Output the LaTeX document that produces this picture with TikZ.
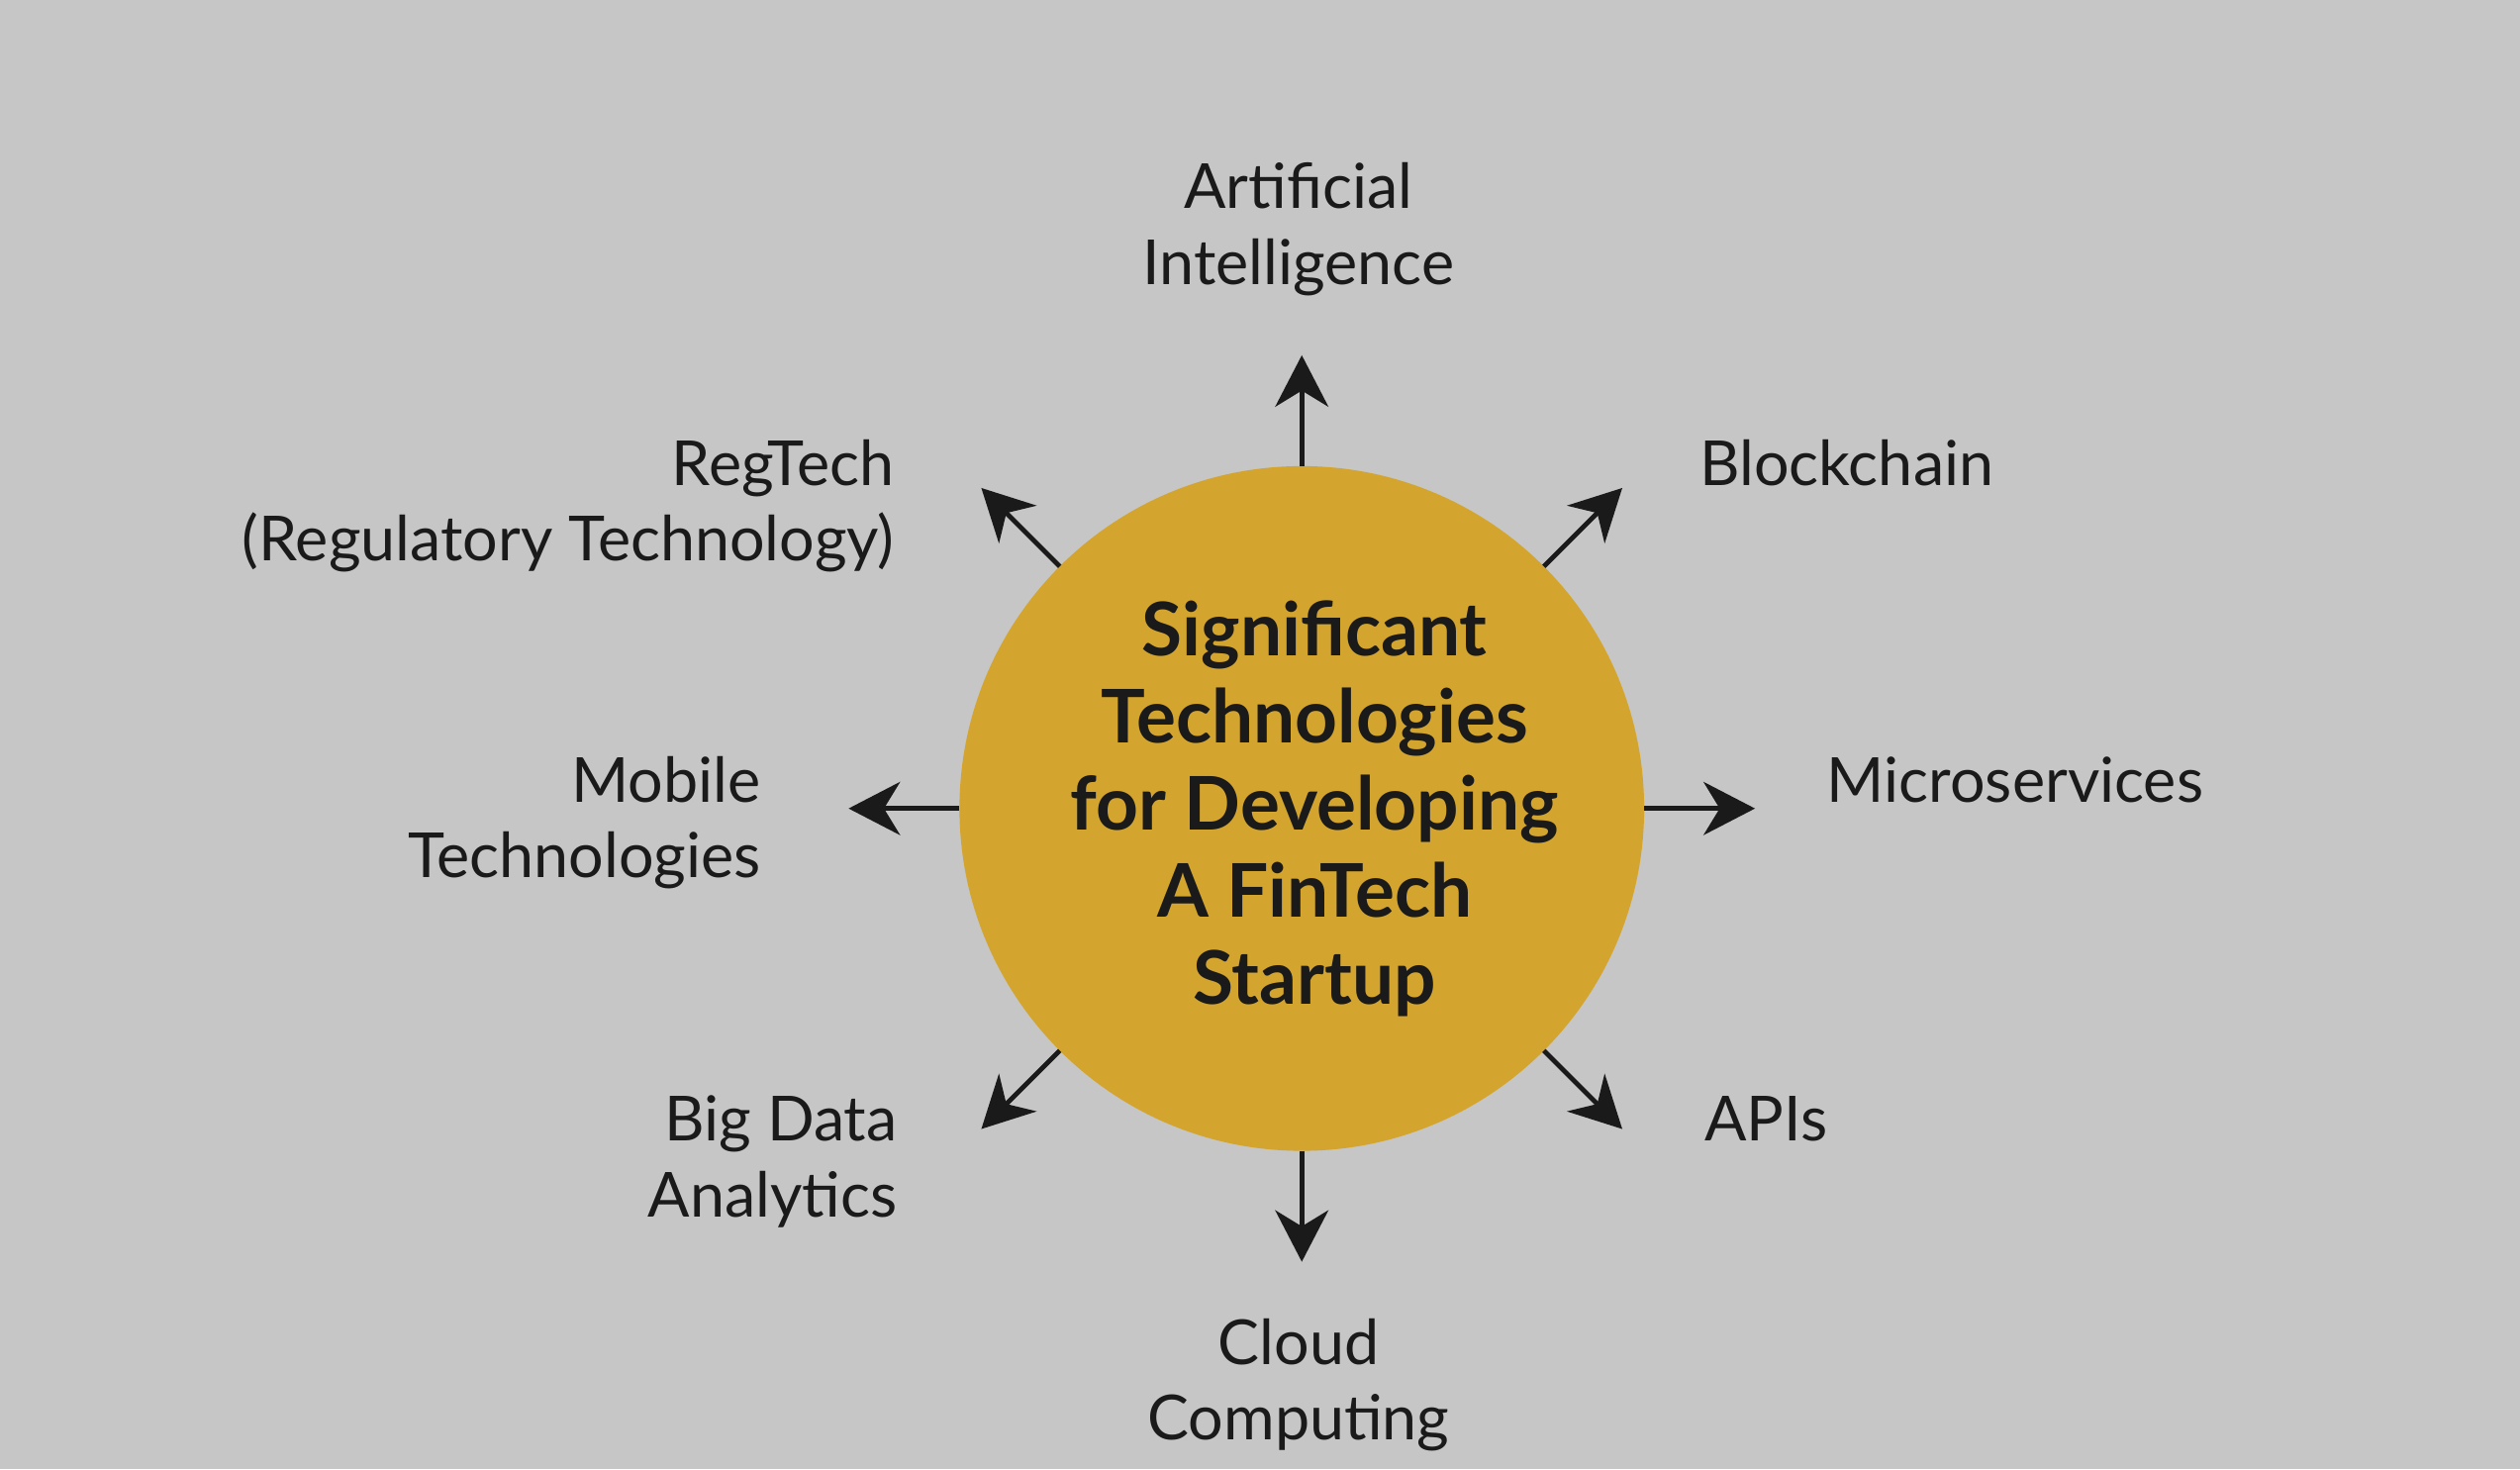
\documentclass[tikz,border=0pt]{standalone}
\usepackage{fontspec}
\setmainfont{Lato}
\usetikzlibrary{arrows.meta}

\definecolor{bggray}{HTML}{C6C6C6}
\definecolor{hubgold}{HTML}{D4A52E}
\definecolor{ink}{HTML}{1A1A1A}

\tikzset{
  hub/.style={circle, fill=hubgold, minimum size=4.26cm, inner sep=0pt, outer sep=0pt},
  title/.style={text=ink, align=center, inner sep=0pt, font=\bfseries\fontsize{13.1}{15.4}\selectfont},
  tech/.style={text=ink, inner sep=0pt, font=\fontsize{11}{13.4}\selectfont},
  link/.style={ink, line width=0.85pt, -{Stealth[length=3.2mm,width=3.3mm,inset=1mm]}}
}

\begin{document}
\begin{tikzpicture}

\fill[bggray] (0,0) rectangle (15.68,9.14);

\node[hub] (hub) at (8.10,4.11) {};
\node[title] (title) at (8.18,4.11) {Significant\\Technologies\\for Developing\\A FinTech\\Startup};

% arrows out of the hub
\foreach \a/\n in {90/ai,45/bc,0/ms,-45/api,-90/cc,-135/bd,180/mob,135/reg}{
  \coordinate (\n) at ([shift={(\a:2.82)}]hub.center);
  \draw[link] (hub.\a) -- (\n);
}

% top and bottom (base = last line)
\node[tech, anchor=base, align=center] (ailabel) at (8.08,7.37) {Artificial\\Intelligence};
\node[tech, anchor=base, align=center] (cclabel) at (8.08,0.18) {Cloud\\Computing};

% right
\node[tech, anchor=base west] (bclabel) at (10.57,6.12) {Blockchain};
\node[tech, anchor=base west] (mslabel) at (11.36,4.15) {Microservices};
\node[tech, anchor=base west] (apilabel) at (10.60,2.04) {APIs};

% left
\node[tech, anchor=base east, align=right] (reglabel) at (5.57,5.65) {RegTech\\(Regulatory Technology)};
\node[tech, anchor=base east, align=right] (moblabel) at (4.74,3.68) {Mobile\\Technologies};
\node[tech, anchor=base east, align=right] (bdlabel) at (5.59,1.57) {Big Data\\Analytics};
\end{tikzpicture}
\end{document}
